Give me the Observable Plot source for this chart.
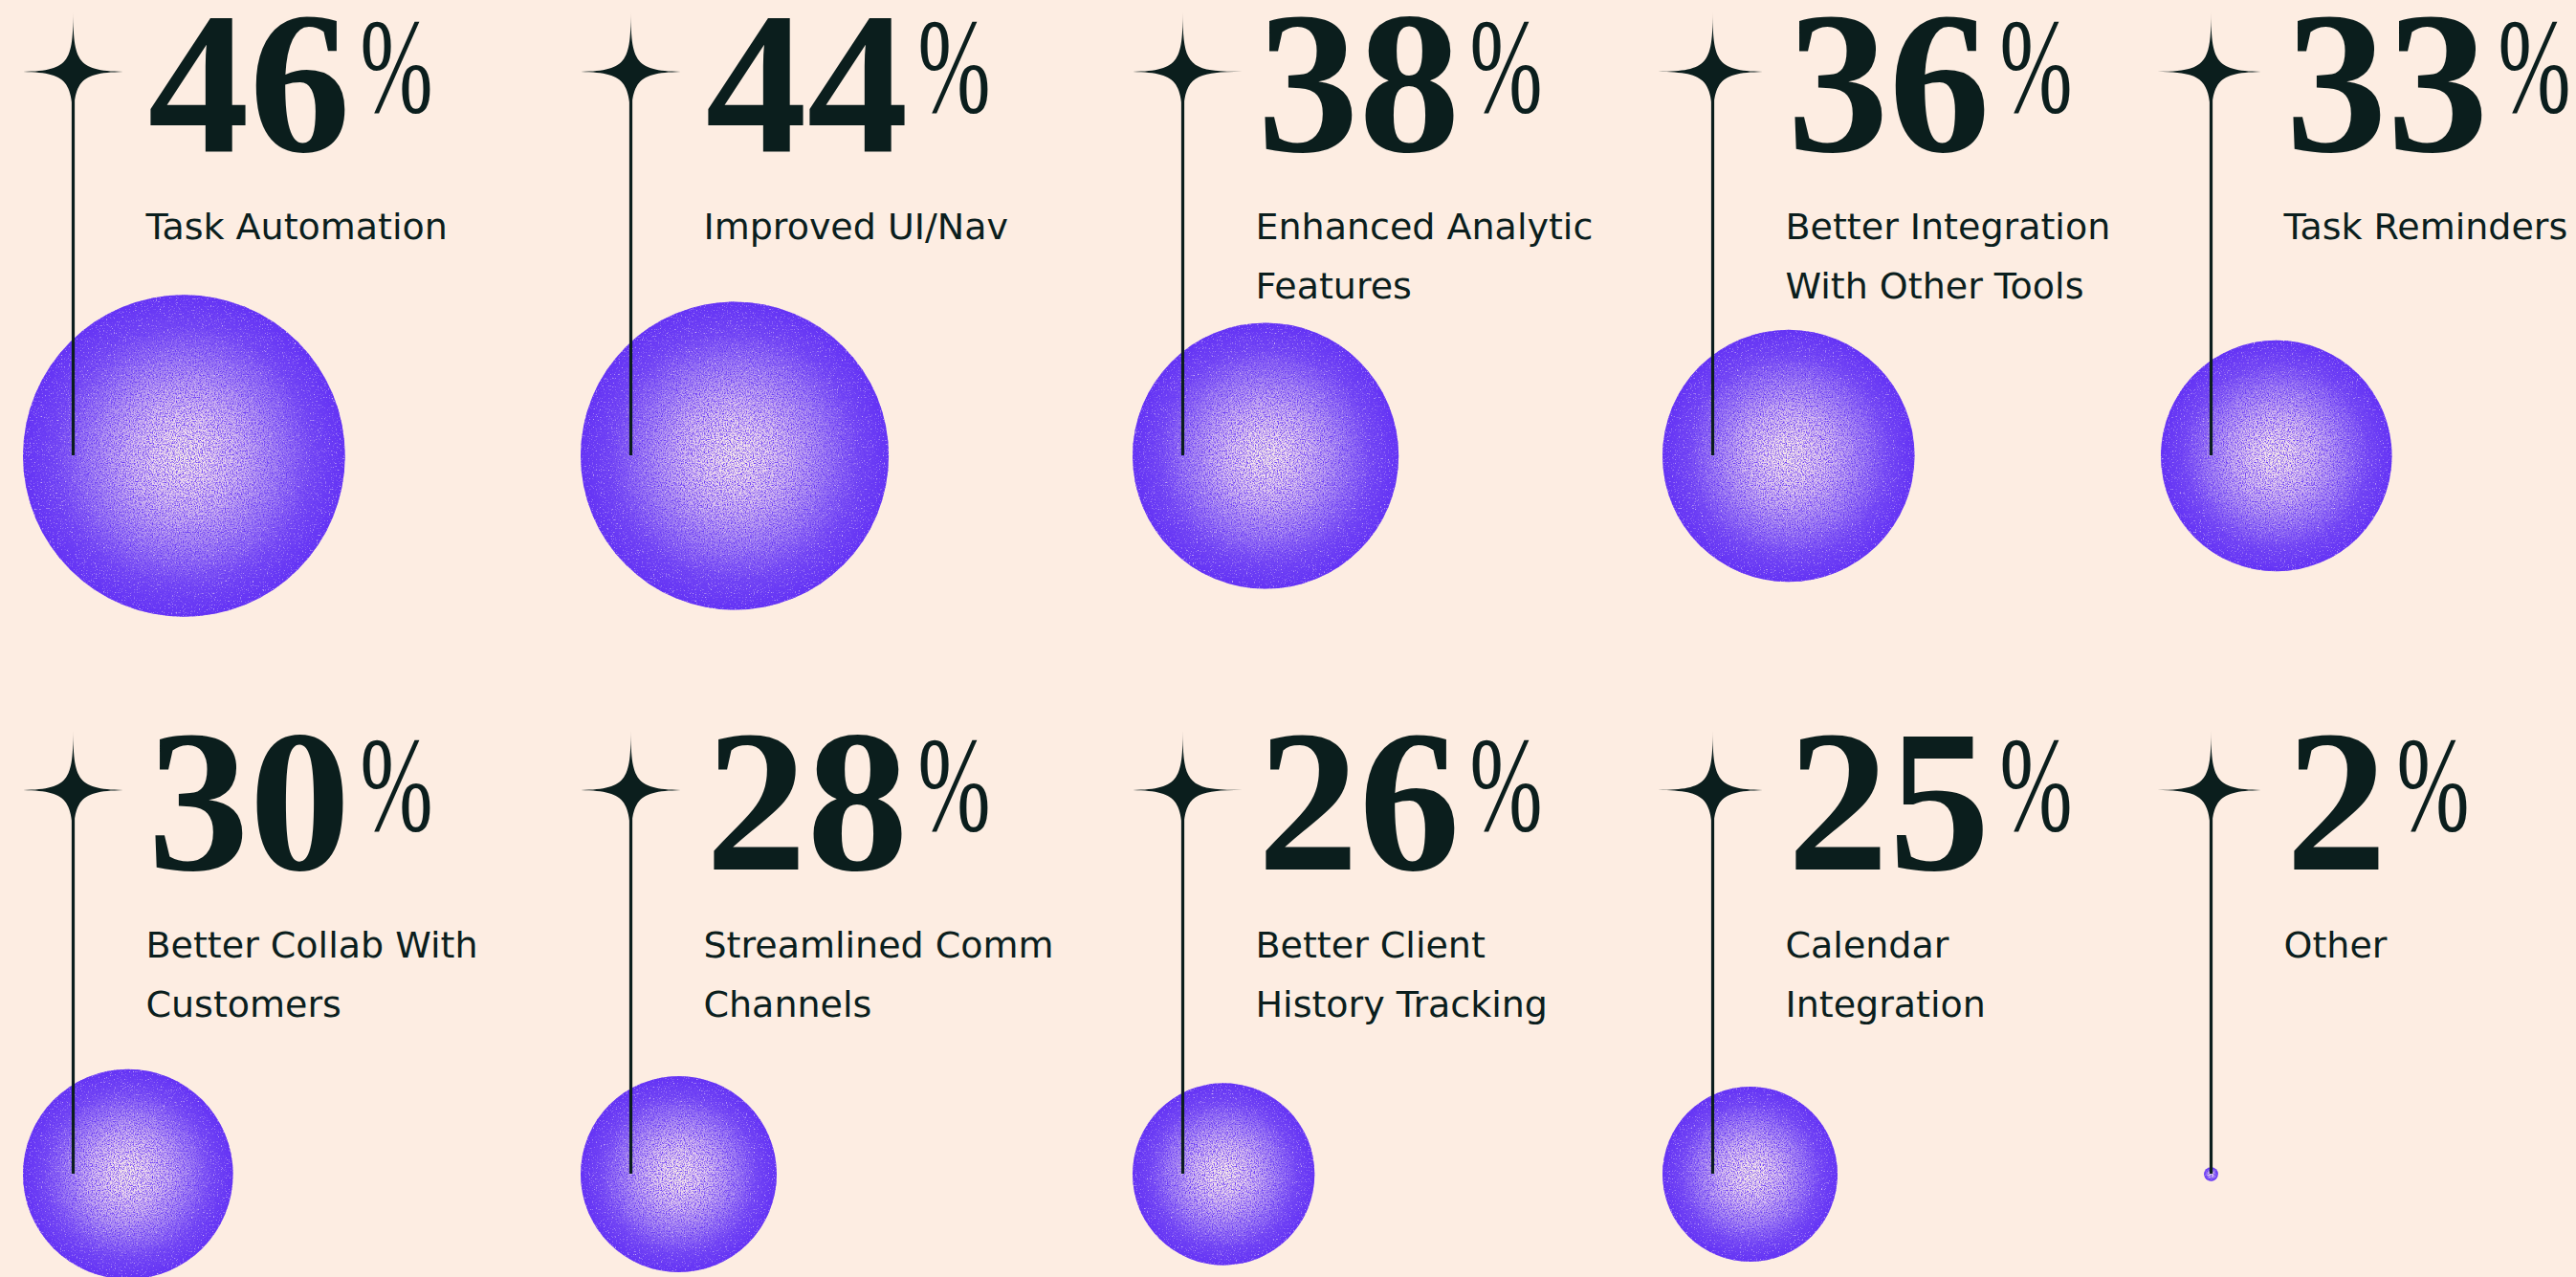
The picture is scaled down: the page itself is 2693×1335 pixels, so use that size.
<!DOCTYPE html>
<html>
<head>
<meta charset="utf-8">
<script src="https://cdn.jsdelivr.net/npm/d3@7"></script>
<script src="https://cdn.jsdelivr.net/npm/@observablehq/plot@0.6"></script>
<style>
  html, body { margin: 0; padding: 0; background: #fdede2; }
  #chart svg { display: block; }
</style>
</head>
<body>
<div id="chart"></div>
<script>
// ---- data ----
const categories = [
  "Task Automation",
  "Improved UI/Nav",
  "Enhanced Analytic\nFeatures",
  "Better Integration\nWith Other Tools",
  "Task Reminders",
  "Better Collab With\nCustomers",
  "Streamlined Comm\nChannels",
  "Better Client\nHistory Tracking",
  "Calendar\nIntegration",
  "Other"
];
const values = [46, 44, 38, 36, 33, 30, 28, 26, 25, 2];
const unit = "%";

// ---- layout & style ----
const W = 2693, H = 1335;
const perRow = 5;
const colX = [76, 659, 1236, 1790, 2311];
const rowY = [74.5, 825.5];
const circleDrop = 401.5;
const textDX = 76;
const numBaseDY = 83;
const labelBaseDY = 175;
const labelSize = 38;
const labelLH = 62 / 38;
const ink = "#0b1e1d";
const bg = "#fdede2";
const rRange = [0, 366];
const rScale = d3.scaleLinear([0, 100], rRange);
const starInset = 52.5;

const data = categories.map((label, i) => ({
  label, value: values[i], col: i % perRow, row: Math.floor(i / perRow)
}));

const sparkle = {
  draw(ctx, size) {
    const R = Math.sqrt(size / Math.PI);
    const a = 0.1 * R;
    ctx.moveTo(0, -R);
    ctx.bezierCurveTo(0, -a, a, 0, R, 0);
    ctx.bezierCurveTo(a, 0, 0, a, 0, R);
    ctx.bezierCurveTo(0, a, -a, 0, -R, 0);
    ctx.bezierCurveTo(-a, 0, 0, -a, 0, -R);
    ctx.closePath();
  }
};

const sx = d => colX[d.col];
const sy = d => rowY[d.row];
const cx = d => colX[d.col] + Math.max(rScale(d.value) - starInset, 0);
const cy = d => rowY[d.row] + circleDrop;

const chart = Plot.plot({
  width: W,
  height: H,
  margin: 0,
  style: { background: bg, overflow: "visible" },
  x: { type: "identity" },
  y: { type: "identity" },
  r: { type: "linear", domain: [0, 100], range: rRange },
  marks: [
    Plot.dot(data, { x: cx, y: cy, r: "value", fill: "url(#orb)", stroke: "none" }),
    Plot.ruleX(data, { x: sx, y1: sy, y2: cy, stroke: ink, strokeWidth: 3.2 }),
    Plot.dot(data, { x: sx, y: sy, r: 62, symbol: sparkle, fill: ink, stroke: "none" }),
    Plot.text(data, {
      x: d => sx(d) + textDX + 2, y: d => sy(d) + numBaseDY,
      text: d => d.value + unit,
      textAnchor: "start", lineAnchor: "bottom",
      fontFamily: "Liberation Serif", fontWeight: 700, fontSize: 212, fill: ink
    }),
    Plot.text(data, {
      x: d => sx(d) + textDX, y: d => sy(d) + labelBaseDY - 0.71 * labelLH * labelSize,
      text: "label",
      textAnchor: "start", lineAnchor: "top", lineHeight: labelLH,
      fontFamily: "DejaVu Sans", fontSize: labelSize, fill: ink
    })
  ]
});

const svg = d3.select(chart);
const defs = svg.insert("defs", ":first-child");
const grad = defs.append("radialGradient").attr("id", "orb").attr("cx", "50%").attr("cy", "50%").attr("r", "50%");
[[0, "#fbeee9"], [0.15, "#f1ddee"], [0.35, "#d4baf1"], [0.6, "#a07ef3"], [0.8, "#7649f4"], [1, "#6331f5"]]
  .forEach(([o, c]) => grad.append("stop").attr("offset", o).attr("stop-color", c));
defs.append("filter").attr("id", "grain").attr("x", "-5%").attr("y", "-5%").attr("width", "110%").attr("height", "110%")
  .attr("color-interpolation-filters", "sRGB")
  .html('<feTurbulence type="fractalNoise" baseFrequency="0.75" numOctaves="2" seed="4" result="n"/>' +
    '<feColorMatrix in="n" type="matrix" values="0 0 0 0 0.40  0 0 0 0 0.22  0 0 0 0 0.96  3 0 0 0 -1.25" result="pn"/>' +
    '<feComposite in="pn" in2="SourceGraphic" operator="in" result="pc"/>' +
    '<feColorMatrix in="n" type="matrix" values="0 0 0 0 1  0 0 0 0 0.94  0 0 0 0 0.95  0 -2.5 0 0 1.0" result="wn"/>' +
    '<feComposite in="wn" in2="SourceGraphic" operator="in" result="wc"/>' +
    '<feMerge><feMergeNode in="SourceGraphic"/><feMergeNode in="pc"/><feMergeNode in="wc"/></feMerge>');
svg.selectAll("circle").attr("filter", "url(#grain)");

// superscript percent sign
const textGroups = svg.selectAll('g[aria-label="text"]').nodes();
d3.select(textGroups[0]).selectAll("text").each(function () {
  const t = this.textContent;
  if (!t.endsWith(unit)) return;
  this.textContent = t.slice(0, -unit.length);
  d3.select(this).append("tspan")
    .attr("font-size", 142).attr("font-weight", 400)
    .attr("dx", 10).attr("dy", -41)
    .attr("textLength", 76).attr("lengthAdjust", "spacingAndGlyphs")
    .text(unit);
});

document.getElementById("chart").append(chart);
</script>
</body>
</html>
